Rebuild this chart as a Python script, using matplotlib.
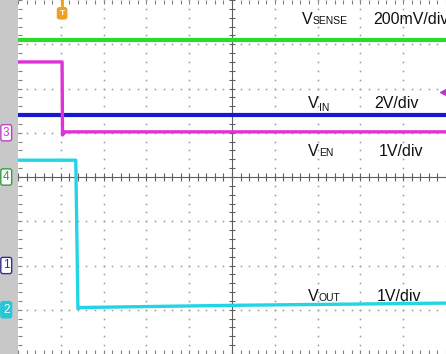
import numpy as np
import matplotlib
matplotlib.use("Agg")
import matplotlib.pyplot as plt
from matplotlib.collections import LineCollection
from matplotlib.transforms import offset_copy

plt.rcParams["font.family"] = ["Liberation Sans", "DejaVu Sans"]

vsense_t = [0, 10]
vsense_v = [7.10, 7.10]

vin_t = [0, 10]
vin_v = [5.40, 5.40]

ven_t = [0, 1.03, 1.04, 1.10, 10]
ven_v = [6.60, 6.60, 4.95, 5.02, 5.02]

vout_t = [0, 1.35, 1.40, 1.45, 5.0, 10]
vout_v = [4.38, 4.38, 1.02, 1.05, 1.10, 1.15]

# (main, small part, subscript?, x, y, scale text, scale x)
labels = [
    ("V", "SENSE", False, 6.64, 7.45, "200mV/div", 8.29),
    ("V", "IN", True, 6.78, 5.57, "2V/div", 8.32),
    ("V", "EN", False, 6.78, 4.48, "1V/div", 8.43),
    ("V", "OUT", False, 6.78, 1.20, "1V/div", 8.39),
]

# channel markers in the left strip: (label, y in div, edge, face, text colour)
channels = [
    ("3", 5.00, "#c040c8", "white", "#c040c8"),
    ("4", 4.00, "#30a040", "white", "#30a040"),
    ("1", 2.00, "#303090", "white", "#303090"),
    ("2", 1.00, "#20c8d8", "#20c8d8", "white"),
]

fig = plt.figure(figsize=(4.46, 3.54), dpi=100)
strip_w = 18 / 446
strip = fig.add_axes([0, 0, strip_w, 1])
strip.set_facecolor("#c8c8c8")
strip.set_xticks([])
strip.set_yticks([])
for s in strip.spines.values():
    s.set_visible(False)

ax = fig.add_axes([strip_w, 0, 1 - strip_w, 1])
ax.set_xlim(0, 10)
ax.set_ylim(0, 8)
for s in ax.spines.values():
    s.set_visible(False)
ax.set_xticks(np.arange(0, 10.01, 1))
ax.set_yticks(np.arange(0, 8.01, 1))
ax.set_xticks(np.arange(0, 10.01, 0.2), minor=True)
ax.set_yticks(np.arange(0, 8.01, 0.2), minor=True)
ax.tick_params(which="both", direction="in", length=3, width=0.8,
               color="#808080", top=True, bottom=True, left=True, right=False,
               labelbottom=False, labelleft=False)

# dotted grid
dot_kw = dict(linestyle="", marker="s", markersize=1.1, color="#989898",
              markeredgewidth=0)
minor_x = np.arange(0, 10.01, 0.2)
minor_y = np.arange(0, 8.01, 0.2)
for gx in range(1, 10):
    if gx != 5:
        ax.plot(np.full_like(minor_y, gx), minor_y, **dot_kw)
for gy in range(1, 8):
    if gy != 4:
        ax.plot(minor_x, np.full_like(minor_x, gy), **dot_kw)

# centre cross with ticks
ax.axhline(4, color="#606060", lw=0.8)
ax.axvline(5, color="#606060", lw=0.8)
segs = [[(x, 4 - 0.08), (x, 4 + 0.08)] for x in minor_x]
segs += [[(5 - 0.08, y), (5 + 0.08, y)] for y in minor_y]
ax.add_collection(LineCollection(segs, colors="#606060", linewidths=0.8))

# traces
ax.plot(vsense_t, vsense_v, color="#28dc28", lw=3.0)
ax.plot(vin_t, vin_v, color="#1818d0", lw=3.0)
ax.plot(ven_t, ven_v, color="#e030d8", lw=2.4)
ax.plot(vout_t, vout_v, color="#22d4e6", lw=2.4)

# labels
for main, small, sub, x, y, scale, sx in labels:
    ax.text(x, y, main, fontsize=11.5, ha="left", va="baseline",
            color="#111111")
    tr = offset_copy(ax.transData, fig=fig, x=7.7, y=-2.5 if sub else 0,
                     units="points")
    ax.text(x, y, small, fontsize=7.5, ha="left", va="baseline",
            color="#111111", transform=tr)
    ax.text(sx, y, scale, fontsize=11.5, ha="left", va="baseline",
            color="#111111", clip_on=False)

# trigger position marker
ax.plot([1.03, 1.03], [8.0, 7.8], color="#f0a020", lw=2, clip_on=False)
ax.text(1.03, 7.70, "T", fontsize=6, color="white", ha="center", va="center",
        fontweight="bold",
        bbox=dict(boxstyle="round,pad=0.25", fc="#f0a020", ec="#f0a020"))

# trigger level marker on the right edge
ax.plot([9.95], [5.92], marker="<", markersize=6, color="#c030c8",
        clip_on=False)

for lab, y, ec, fc, tc in channels:
    fig.text(0.014, y / 8, lab, fontsize=8.5, ha="center", va="center",
             color=tc,
             bbox=dict(boxstyle="round,pad=0.18", fc=fc, ec=ec, lw=1))

fig.savefig("out.png", dpi=100)
